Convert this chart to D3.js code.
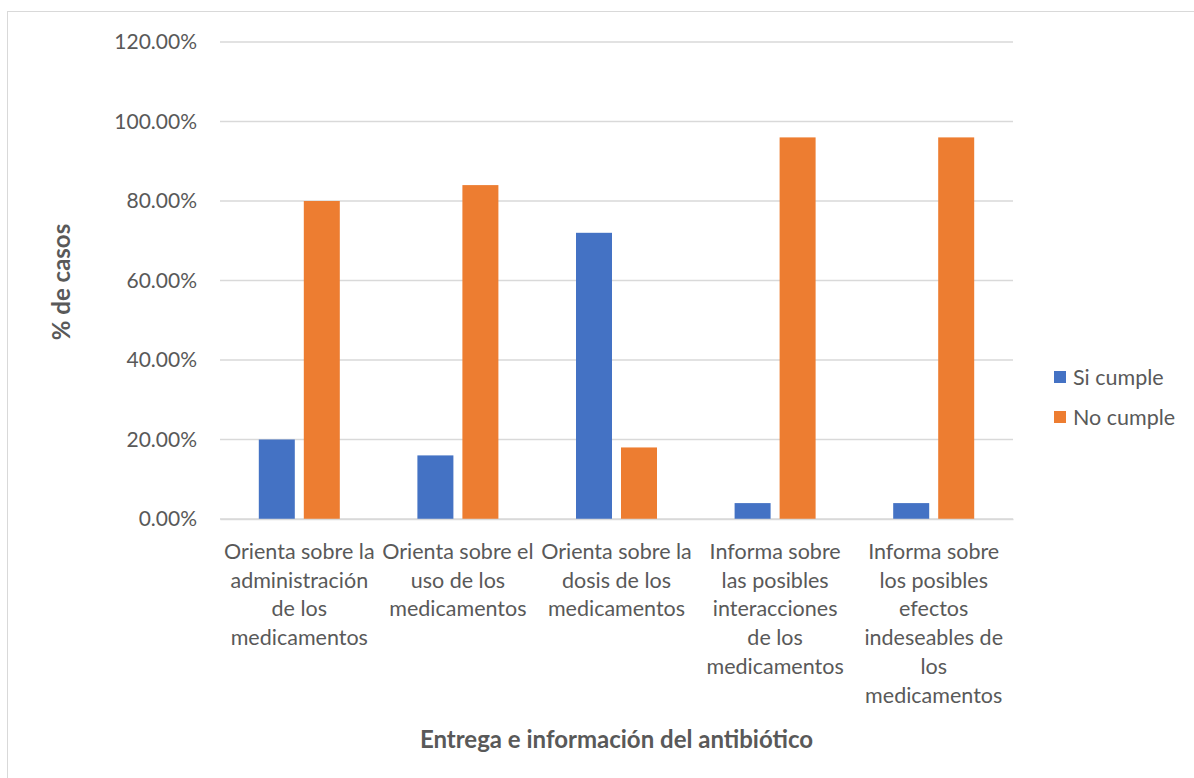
<!DOCTYPE html>
<html>
<head>
<meta charset="utf-8">
<script src="https://cdn.jsdelivr.net/npm/d3@7"></script>
<style>
  body { margin: 0; background: #fff; }
  text { font-family: Lato, "Open Sans", sans-serif; fill: #595959; }
</style>
</head>
<body>
<div id="viz"></div>
<script>
// chart data
var categories = [
  "Orienta sobre la\nadministración\nde los\nmedicamentos",
  "Orienta sobre el\nuso de los\nmedicamentos",
  "Orienta sobre la\ndosis de los\nmedicamentos",
  "Informa sobre\nlas posibles\ninteracciones\nde los\nmedicamentos",
  "Informa sobre\nlos posibles\nefectos\nindeseables de\nlos\nmedicamentos"
]
var seriesNames = ["Si cumple", "No cumple"]
var siCumple = [20, 16, 72, 4, 4]
var noCumple = [80, 84, 18, 96, 96]
var yTicks = [0, 20, 40, 60, 80, 100, 120]
var colors = ["#4472C4", "#ED7D31"]

var W = 1194, H = 778
var margin = {top: 42, left: 220, right: 181, bottom: 259}
var width = W - margin.left - margin.right
var height = H - margin.top - margin.bottom

var rows = categories.map(function(c, i) { return {cat: c, vals: [siCumple[i], noCumple[i]]} })

var svg = d3.select("#viz").append("svg")
  .attr("width", W)
  .attr("height", H)

// chart border
svg.append("rect")
  .attr("x", 7.5).attr("y", 11.5)
  .attr("width", W).attr("height", H)
  .attr("fill", "none").attr("stroke", "#d9d9d9")

var g = svg.append("g")
  .attr("transform", "translate(" + margin.left + "," + margin.top + ")")

var x0 = d3.scaleBand().domain(d3.range(categories.length)).range([0, width])
var x1 = d3.scaleBand().domain([0, 1]).range([38.8, x0.bandwidth() - 38.8]).paddingInner(0.2)
var y = d3.scaleLinear().domain([0, 120]).range([height, 0])

// gridlines
g.selectAll(".grid")
  .data(yTicks)
  .enter().append("line")
  .attr("x1", 0).attr("x2", width)
  .attr("y1", function(d) { return y(d) }).attr("y2", function(d) { return y(d) })
  .attr("stroke", "#d9d9d9").attr("stroke-width", 1.3)

// y axis labels
var yAxis = g.append("g")
  .call(d3.axisLeft(y).tickValues(yTicks).tickSize(0).tickPadding(23)
    .tickFormat(function(d) { return d.toFixed(2) + "%" }))
yAxis.select(".domain").remove()
yAxis.selectAll("text").attr("font-size", 21).attr("fill", "#595959")
  .style("font-family", "Lato, sans-serif")

// bars
var groups = g.selectAll(".cat")
  .data(rows)
  .enter().append("g")
  .attr("transform", function(d, i) { return "translate(" + x0(i) + ",0)" })

groups.selectAll("rect")
  .data(function(d) { return d.vals })
  .enter().append("rect")
  .attr("x", function(d, j) { return x1(j) })
  .attr("width", x1.bandwidth())
  .attr("y", function(d) { return y(d) })
  .attr("height", function(d) { return height - y(d) })
  .attr("fill", function(d, j) { return colors[j] })

// category labels
var xAxis = g.append("g")
  .attr("transform", "translate(0," + height + ")")
  .call(d3.axisBottom(x0).tickSize(0).tickFormat(""))
xAxis.select(".domain").attr("stroke", "#d9d9d9").attr("stroke-width", 1.3)

xAxis.selectAll(".tick").each(function(d) {
  var t = d3.select(this).append("text")
    .attr("text-anchor", "middle")
    .attr("font-size", 21.5)
    .attr("fill", "#595959")
  categories[d].split("\n").forEach(function(line, k) {
    t.append("tspan").attr("x", 0).attr("y", 40 + k * 28.7).text(line)
  })
})

// axis titles
svg.append("text")
  .attr("x", margin.left + width / 2).attr("y", 748)
  .attr("text-anchor", "middle")
  .attr("font-size", 24).attr("font-weight", "bold")
  .text("Entrega e información del antibiótico")

svg.append("text")
  .attr("transform", "translate(70,282) rotate(-90)")
  .attr("text-anchor", "middle")
  .attr("font-size", 24).attr("font-weight", "bold")
  .text("% de casos")

// legend
var legend = svg.append("g")
  .selectAll("g")
  .data(seriesNames)
  .enter().append("g")
  .attr("transform", function(d, i) { return "translate(1054," + (371 + i * 40) + ")" })
legend.append("rect")
  .attr("width", 12).attr("height", 12)
  .attr("fill", function(d, i) { return colors[i] })
legend.append("text")
  .attr("x", 19).attr("y", 14)
  .attr("font-size", 21.5)
  .text(function(d) { return d })
</script>
</body>
</html>
